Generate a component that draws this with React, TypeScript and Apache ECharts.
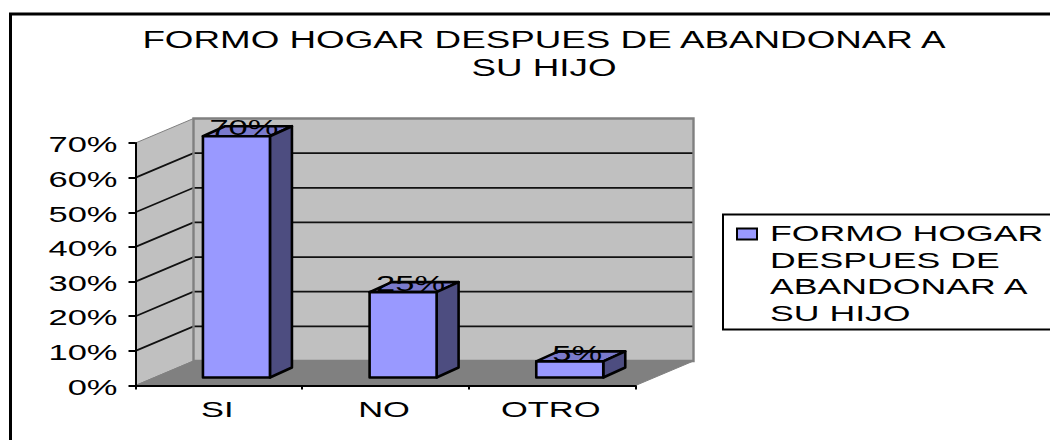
import React, { useEffect, useRef } from "react";
import * as echarts from "echarts";

const titleLines = ["FORMO HOGAR DESPUES DE ABANDONAR A", "SU HIJO"];
const legendLines = ["FORMO HOGAR", "DESPUES DE", "ABANDONAR A", "SU HIJO"];
const categories = ["SI", "NO", "OTRO"];
const values = [70, 25, 5];
const valueLabels = ["70%", "25%", "5%"];
const yTicks = [0, 10, 20, 30, 40, 50, 60, 70];
const yTickLabels = ["0%", "10%", "20%", "30%", "40%", "50%", "60%", "70%"];

const FONT = "Liberation Sans";
const LABEL_SIZE = 23;
const STRETCH = 1.5;
const DEPTH_X = 58;
const DEPTH_Y = -24.5;
const BAR_SHIFT_X = 17.6;
const BAR_WIDTH = 67;
const BAR_BASE_Y = -8;
const BAR_TOP_Y = -6.8;
const BAR_DEPTH_X = 22;
const BAR_DEPTH_Y = -10;

const stretched = (text: string, x: number, y: number, align: string, size: number, scale: number) => ({
  type: "text",
  x,
  y,
  scaleX: scale,
  style: { text, x: 0, y: 0, align, verticalAlign: "middle", fontFamily: FONT, fontSize: size, fill: "#000" },
});

function frameBounds(api: any) {
  const band = api.size([1, 0])[0];
  const left = api.coord([0, 0])[0] - band / 2;
  const right = api.coord([categories.length - 1, 0])[0] + band / 2;
  const y0 = api.coord([0, 0])[1];
  const yTop = api.coord([0, yTicks[yTicks.length - 1]])[1];
  return { left, right, y0, yTop };
}

const renderWalls = (_: any, api: any) => {
  const { left, right, y0, yTop } = frameBounds(api);
  return {
    type: "group",
    children: [
      {
        type: "polygon",
        shape: { points: [[left, y0], [left, yTop], [left + DEPTH_X, yTop + DEPTH_Y], [left + DEPTH_X, y0 + DEPTH_Y]] },
        style: { fill: "#C0C0C0", stroke: "#808080", lineWidth: 1 },
      },
      {
        type: "rect",
        shape: { x: left + DEPTH_X, y: yTop + DEPTH_Y, width: right - left, height: y0 - yTop },
        style: { fill: "#C0C0C0" },
      },
      {
        type: "polygon",
        shape: { points: [[left, y0], [right, y0], [right + DEPTH_X, y0 + DEPTH_Y], [left + DEPTH_X, y0 + DEPTH_Y]] },
        style: { fill: "#808080", stroke: "#808080", lineWidth: 1 },
      },
    ],
  };
};

const renderGridLine = (_: any, api: any) => {
  const { left, right } = frameBounds(api);
  const y = api.coord([0, api.value(0)])[1];
  return {
    type: "polyline",
    shape: { points: [[left, y], [left + DEPTH_X, y + DEPTH_Y], [right + DEPTH_X, y + DEPTH_Y]] },
    style: { fill: "none", stroke: "#111", lineWidth: 1.8 },
  };
};

const renderWallEdge = (_: any, api: any) => {
  const { left, right, y0, yTop } = frameBounds(api);
  return {
    type: "rect",
    shape: { x: left + DEPTH_X, y: yTop + DEPTH_Y, width: right - left, height: y0 - yTop },
    style: { fill: "none", stroke: "#808080", lineWidth: 2.4 },
  };
};

const renderBar = (_: any, api: any) => {
  const cx = api.coord([api.value(0), 0])[0] + BAR_SHIFT_X;
  const base = api.coord([0, 0])[1] + BAR_BASE_Y;
  const top = api.coord([0, api.value(1)])[1] + BAR_TOP_Y;
  const l = cx - BAR_WIDTH / 2;
  const r = cx + BAR_WIDTH / 2;
  const line = { stroke: "#000", lineWidth: 2.6, lineJoin: "round" };
  return {
    type: "group",
    children: [
      {
        type: "polygon",
        shape: { points: [[l, top], [r, top], [r + BAR_DEPTH_X, top + BAR_DEPTH_Y], [l + BAR_DEPTH_X, top + BAR_DEPTH_Y]] },
        style: { fill: "#7A7ACC", ...line },
      },
      {
        type: "polygon",
        shape: { points: [[r, top], [r + BAR_DEPTH_X, top + BAR_DEPTH_Y], [r + BAR_DEPTH_X, base + BAR_DEPTH_Y], [r, base]] },
        style: { fill: "#4D4D80", ...line },
      },
      {
        type: "rect",
        shape: { x: l, y: top, width: BAR_WIDTH, height: base - top },
        style: { fill: "#9999FF", ...line },
      },
    ],
  };
};

const renderValueLabel = (params: any, api: any) => {
  const cx = api.coord([api.value(0), 0])[0] + BAR_SHIFT_X + 7.5;
  const top = api.coord([0, api.value(1)])[1] + BAR_TOP_Y;
  return stretched(valueLabels[params.dataIndex], cx, top - 9, "center", LABEL_SIZE, STRETCH);
};

const renderYLabel = (params: any, api: any) => {
  const { left } = frameBounds(api);
  const y = api.coord([0, api.value(0)])[1];
  return stretched(yTickLabels[params.dataIndex], left - 18, y + 1, "right", LABEL_SIZE, STRETCH);
};

const renderXLabel = (params: any, api: any) => {
  const x = api.coord([api.value(0), 0])[0] - 1.5;
  const y0 = api.coord([0, 0])[1];
  return stretched(categories[params.dataIndex], x, y0 + 23.5, "center", LABEL_SIZE, STRETCH);
};

export default function App() {
  const ref = useRef<HTMLDivElement>(null);
  useEffect(() => {
    const chart = echarts.init(ref.current!, null, { renderer: "svg" });
    const custom = (name: string, renderItem: any, data: any[]) => ({
      type: "custom",
      name,
      renderItem,
      data,
      coordinateSystem: "cartesian2d",
      clip: false,
      silent: true,
      encode: { x: data[0].length > 1 ? 0 : undefined, y: data[0].length > 1 ? 1 : 0 },
    });
    chart.setOption({
      animation: false,
      backgroundColor: "#fff",
      grid: { left: 135.5, right: 414.5, top: 143, bottom: 54.5, containLabel: false },
      xAxis: {
        type: "category",
        data: categories,
        z: 5,
        axisLine: { show: true, lineStyle: { color: "#000", width: 2 } },
        axisTick: { show: true, alignWithLabel: false, length: 4, lineStyle: { color: "#000", width: 2 } },
        axisLabel: { show: false },
        splitLine: { show: false },
      },
      yAxis: {
        type: "value",
        min: 0,
        max: 70,
        interval: 10,
        z: 5,
        axisLine: { show: true, lineStyle: { color: "#000", width: 2 } },
        axisTick: { show: true, length: 7, lineStyle: { color: "#000", width: 2 } },
        axisLabel: { show: false },
        splitLine: { show: false },
      },
      series: [
        custom("walls", renderWalls, [[0]]),
        custom("grid", renderGridLine, yTicks.slice(1, -1).map((t) => [t])),
        custom("wallEdge", renderWallEdge, [[0]]),
        custom("FORMO HOGAR DESPUES DE ABANDONAR A SU HIJO", renderBar, values.map((v, i) => [i, v])),
        custom("values", renderValueLabel, values.map((v, i) => [i, v])),
        custom("yLabels", renderYLabel, yTicks.map((t) => [t])),
        custom("xLabels", renderXLabel, categories.map((_, i) => [i, 0])),
      ],
      graphic: [
        {
          type: "rect",
          shape: { x: 10.5, y: 14, width: 1080, height: 460 },
          style: { fill: "none", stroke: "#000", lineWidth: 3 },
        },
        {
          type: "text",
          x: 544,
          y: 54,
          scaleX: 1.6,
          style: {
            text: titleLines.join("\n"),
            x: 0,
            y: 0,
            align: "center",
            verticalAlign: "middle",
            lineHeight: 28,
            fontFamily: FONT,
            fontSize: 23,
            fill: "#000",
          },
        },
        {
          type: "rect",
          shape: { x: 723, y: 214.5, width: 360, height: 115 },
          style: { fill: "#fff", stroke: "#000", lineWidth: 2 },
        },
        {
          type: "rect",
          shape: { x: 737, y: 228.5, width: 20, height: 11 },
          style: { fill: "#9999FF", stroke: "#000", lineWidth: 2 },
        },
        {
          type: "text",
          x: 770,
          y: 273,
          scaleX: 1.62,
          style: {
            text: legendLines.join("\n"),
            x: 0,
            y: 0,
            align: "left",
            verticalAlign: "middle",
            lineHeight: 26.6,
            fontFamily: FONT,
            fontSize: 22,
            fill: "#000",
          },
        },
      ],
    });
    return () => chart.dispose();
  }, []);
  return <div ref={ref} style={{ position: "fixed", left: 0, top: 0, width: 1050, height: 440 }} />;
}
